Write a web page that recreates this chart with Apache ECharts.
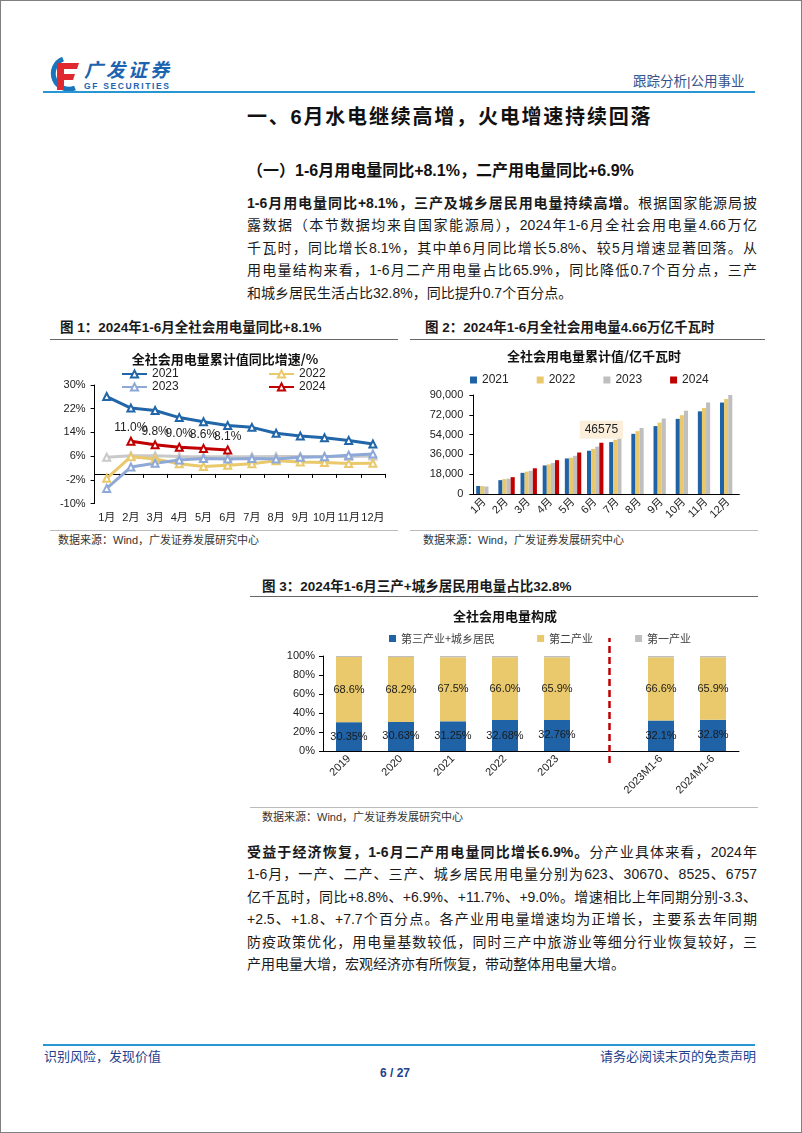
<!DOCTYPE html>
<html>
<head>
<meta charset="utf-8">
<script src="https://cdn.jsdelivr.net/npm/echarts@6/dist/echarts.min.js"></script>
<style>
html, body { margin: 0; padding: 0; background: #fff; }
body { width: 802px; height: 1133px; position: relative; overflow: hidden;
       font-family: "Liberation Sans", Arial, "Noto Sans CJK SC", sans-serif; color: #111; }
.page { position: absolute; left: 0; top: 0; width: 800px; height: 1131px; border: 1px solid #7f7f7f; }
.abs { position: absolute; white-space: nowrap; }
.hline { position: absolute; height: 0; }
.para { position: absolute; left: 247px; width: 510px; font-size: 14px; line-height: 22.4px; color: #1a1a1a; }
.ln { text-align: justify; text-align-last: justify; height: 22.4px; overflow: hidden; }
.ln.last { text-align-last: left; }
.fig { font-size: 13.5px; font-weight: bold; color: #1a1a1a; line-height: 16px; }
.src { font-size: 11px; color: #333; line-height: 14px; }
.chart { position: absolute; }
</style>
</head>
<body>
<div class="page"></div>

<!-- header -->
<svg class="abs" style="left:44px;top:54px" width="132" height="40">
  <path d="M19 5 A15 15 0 1 0 31 34" stroke="#1B75BB" stroke-width="5" fill="none"/>
  <path d="M13 9 H35 L33 15 H20 V20 H31 L29 26 H20 V36 H13 Z" fill="#E0282E"/>
  <text x="40" y="23" font-size="19" font-weight="bold" fill="#1E63B0" font-family="Noto Sans CJK SC" textLength="85" font-style="italic">广发证券</text>
  <text x="40" y="35" font-size="8.5" font-weight="bold" fill="#1E63B0" font-family="Liberation Sans" textLength="85">GF SECURITIES</text>
</svg>
<div class="abs" style="left:633px;top:74px;font-size:13.5px;color:#35538A;line-height:16px">跟踪分析|公用事业</div>
<div class="hline" style="left:43px;top:91px;width:712px;border-top:2.5px solid #2896D3"></div>

<div class="abs" style="left:247px;top:105px;font-size:20px;font-weight:bold;letter-spacing:1.8px;line-height:24px;color:#111">一、6月水电继续高增，火电增速持续回落</div>
<div class="abs" style="left:247px;top:161px;font-size:16px;font-weight:bold;line-height:20px;color:#111">（一）1-6月用电量同比+8.1%，二产用电量同比+6.9%</div>

<div class="para" style="top:192px">
  <div class="ln"><b>1-6月用电量同比+8.1%，三产及城乡居民用电量持续高增。</b>根据国家能源局披</div>
  <div class="ln">露数据（本节数据均来自国家能源局），2024年1-6月全社会用电量4.66万亿</div>
  <div class="ln">千瓦时，同比增长8.1%，其中单6月同比增长5.8%、较5月增速显著回落。从</div>
  <div class="ln">用电量结构来看，1-6月二产用电量占比65.9%，同比降低0.7个百分点，三产</div>
  <div class="ln last">和城乡居民生活占比32.8%，同比提升0.7个百分点。</div>
</div>

<!-- figure 1 / 2 headers -->
<div class="abs fig" style="left:60px;top:320px">图 1：2024年1-6月全社会用电量同比+8.1%</div>
<div class="hline" style="left:50px;top:339px;width:348px;border-top:1.5px solid #666"></div>
<div class="abs fig" style="left:425px;top:320px">图 2：2024年1-6月全社会用电量4.66万亿千瓦时</div>
<div class="hline" style="left:410px;top:339px;width:355px;border-top:1.5px solid #666"></div>

<div id="c1" class="chart" style="left:50px;top:342px;width:350px;height:188px"></div>
<div id="c2" class="chart" style="left:410px;top:342px;width:360px;height:188px"></div>

<div class="hline" style="left:50px;top:530px;width:348px;border-top:1px solid #bbb"></div>
<div class="abs src" style="left:58px;top:533px">数据来源：Wind，广发证券发展研究中心</div>
<div class="hline" style="left:410px;top:530px;width:348px;border-top:1px solid #bbb"></div>
<div class="abs src" style="left:423px;top:533px">数据来源：Wind，广发证券发展研究中心</div>

<!-- figure 3 -->
<div class="abs fig" style="left:262px;top:579px">图 3：2024年1-6月三产+城乡居民用电量占比32.8%</div>
<div class="hline" style="left:250px;top:596px;width:508px;border-top:1.5px solid #666"></div>
<div id="c3" class="chart" style="left:250px;top:600px;width:510px;height:205px"></div>
<div class="hline" style="left:250px;top:807px;width:508px;border-top:1px solid #bbb"></div>
<div class="abs src" style="left:262px;top:810px">数据来源：Wind，广发证券发展研究中心</div>

<div class="para" style="top:841px">
  <div class="ln"><b>受益于经济恢复，1-6月二产用电量同比增长6.9%。</b>分产业具体来看，2024年</div>
  <div class="ln">1-6月，一产、二产、三产、城乡居民用电量分别为623、30670、8525、6757</div>
  <div class="ln">亿千瓦时，同比+8.8%、+6.9%、+11.7%、+9.0%。增速相比上年同期分别-3.3、</div>
  <div class="ln">+2.5、+1.8、+7.7个百分点。各产业用电量增速均为正增长，主要系去年同期</div>
  <div class="ln">防疫政策优化，用电量基数较低，同时三产中旅游业等细分行业恢复较好，三</div>
  <div class="ln last">产用电量大增，宏观经济亦有所恢复，带动整体用电量大增。</div>
</div>

<!-- footer -->
<div class="hline" style="left:43px;top:1044px;width:712px;border-top:2.5px solid #2896D3"></div>
<div class="abs" style="left:44px;top:1049px;font-size:13px;color:#24418C;line-height:16px">识别风险，发现价值</div>
<div class="abs" style="right:46px;top:1049px;font-size:13px;color:#24418C;line-height:16px">请务必阅读末页的免责声明</div>
<div class="abs" style="left:380px;top:1065px;width:30px;text-align:center;font-size:12px;font-weight:bold;color:#24418C;line-height:16px">6 / 27</div>

<script>
// ---- 图1：全社会用电量累计同比增速(%)
const months = ['1月', '2月', '3月', '4月', '5月', '6月', '7月', '8月', '9月', '10月', '11月', '12月'];
const growth2021 = [26.1, 22.2, 21.4, 19.0, 17.6, 16.3, 15.7, 13.7, 12.8, 12.2, 11.3, 10.1];
const growth2022 = [-1.5, 5.8, 5.0, 3.4, 2.5, 2.9, 3.4, 4.4, 4.0, 3.8, 3.5, 3.6];
const growth2023 = [-4.9, 2.3, 3.6, 4.7, 5.2, 5.0, 5.2, 5.0, 5.6, 5.8, 6.3, 6.7];
const growthGray = [5.6, 6.1, 6.1, 5.9, 5.8, 5.8, 5.8, 5.9, 5.9, 5.9, 5.9, 6.0];
const growth2024 = [null, 11.0, 9.8, 9.0, 8.6, 8.1, null, null, null, null, null, null];
const growthTicks = [-10, -2, 6, 14, 22, 30];

// ---- 图2：全社会用电量累计值(亿千瓦时)
const cum2021 = [7300, 12588, 19219, 25964, 32305, 39339, 47186, 54704, 61733, 68311, 75145, 83128];
const cum2022 = [7200, 13578, 20346, 26899, 33011, 40977, 49303, 57151, 64931, 71630, 78150, 86372];
const cum2023 = [6800, 13890, 21073, 28196, 34707, 43076, 51599, 60026, 68637, 75756, 83177, 92241];
const cum2024 = [null, 15316, 23373, 30751, 37722, 46575, null, null, null, null, null, null];
const cumLabelIndex = 5;

// ---- 图3：全社会用电量构成(%)
const structCats = ['2019', '2020', '2021', '2022', '2023', ' ', '2023M1-6', '2024M1-6'];
const shareTertiary = [30.35, 30.63, 31.25, 32.68, 32.76, null, 32.1, 32.8];
const shareSecondary = [68.6, 68.2, 67.5, 66.0, 65.9, null, 66.6, 65.9];
const sharePrimary = [1.05, 1.17, 1.25, 1.32, 1.34, null, 1.3, 1.3];
const shareLabels = {
    tertiary: ['30.35%', '30.63%', '31.25%', '32.68%', '32.76%', '', '32.1%', '32.8%'],
    secondary: ['68.6%', '68.2%', '67.5%', '66.0%', '65.9%', '', '66.6%', '65.9%']
};
const separatorCat = ' ';

const FONT = '"Liberation Sans", Arial, "Noto Sans CJK SC", sans-serif';
const BLUE = '#1F62A6', YELLOW = '#E9C96C', GRAY = '#BFBFBF', RED = '#C00000';
const LIGHTBLUE = '#8EA9D8', LINEGRAY = '#C9C9C9';

// 图1
const c1 = echarts.init(document.getElementById('c1'));
const lineSeries = (name, data, color, z) => ({
    name: name,
    type: 'line',
    data: data,
    z: z,
    symbol: 'emptyTriangle',
    symbolSize: 7,
    lineStyle: { width: 3, color: color },
    itemStyle: { color: color, borderWidth: 1.2 },
    connectNulls: false
});
c1.setOption({
    animation: false,
    textStyle: { fontFamily: FONT },
    title: {
        text: '全社会用电量累计值同比增速/%',
        left: 'center', top: 6,
        textStyle: { fontSize: 13, fontWeight: 'bold', color: '#111', fontFamily: '"Noto Sans CJK SC", sans-serif' }
    },
    legend: [
        { data: ['2021', '2023'], orient: 'vertical', left: 66, top: 21, itemWidth: 25, itemHeight: 9, itemGap: 1,
          textStyle: { fontSize: 12, color: '#222' } },
        { data: ['2022', '2024'], orient: 'vertical', left: 213, top: 21, itemWidth: 25, itemHeight: 9, itemGap: 1,
          textStyle: { fontSize: 12, color: '#222' } }
    ],
    grid: { left: 44.6, right: 15, top: 43, bottom: 26.5 },
    xAxis: [
        {
            type: 'category', data: months, position: 'bottom',
            axisLine: { show: false, onZero: false }, axisTick: { show: false },
            axisLabel: { fontSize: 11, color: '#222', margin: 9, interval: 0 }
        },
        {
            type: 'category', data: months, position: 'bottom',
            axisLine: { show: true, onZero: true, lineStyle: { color: '#000', width: 1 } },
            axisTick: { show: true, length: 4, interval: 0, lineStyle: { color: '#000' } },
            axisLabel: { show: false }
        }
    ],
    yAxis: {
        type: 'value', min: -10, max: 30,
        axisLine: { show: true, lineStyle: { color: '#000' } },
        axisTick: { show: true, length: 4, customValues: growthTicks, lineStyle: { color: '#000' } },
        axisLabel: { fontSize: 11, color: '#222', margin: 9, customValues: growthTicks, formatter: '{value}%' },
        splitLine: { show: false }
    },
    series: [
        lineSeries('2021', growth2021, '#2166A8', 3),
        lineSeries('2022', growth2022, YELLOW, 3),
        lineSeries('other', growthGray, LINEGRAY, 2),
        lineSeries('2023', growth2023, LIGHTBLUE, 3),
        Object.assign(lineSeries('2024', growth2024, RED, 4), {
            label: {
                show: true, position: 'top', distance: 3, fontSize: 12, color: '#222',
                formatter: p => (p.value == null ? '' : p.value.toFixed(1) + '%')
            }
        })
    ]
});

// 图2
const c2 = echarts.init(document.getElementById('c2'));
const barSeries = (name, data, color) => ({
    name: name, type: 'bar', data: data, barGap: 0, barCategoryGap: '26%',
    itemStyle: { color: color }
});
c2.setOption({
    animation: false,
    textStyle: { fontFamily: FONT },
    title: {
        text: '全社会用电量累计值/亿千瓦时',
        left: 92, top: 3,
        textStyle: { fontSize: 13, fontWeight: 'bold', color: '#111', fontFamily: '"Noto Sans CJK SC", sans-serif' }
    },
    legend: {
        data: ['2021', '2022', '2023', '2024'], left: 55, top: 27,
        icon: 'rect', itemWidth: 7, itemHeight: 7, itemGap: 28,
        textStyle: { fontSize: 12, color: '#222' }
    },
    grid: { left: 63.3, right: 30.7, top: 53, bottom: 36 },
    xAxis: {
        type: 'category', data: months,
        axisLine: { lineStyle: { color: '#000' } },
        axisTick: { length: 4, lineStyle: { color: '#000' } },
        axisLabel: { fontSize: 11, color: '#222', rotate: 45, margin: 6, interval: 0 }
    },
    yAxis: {
        type: 'value', min: 0, max: 90000, interval: 18000,
        axisLine: { show: true, lineStyle: { color: '#000' } },
        axisTick: { show: true, length: 4, lineStyle: { color: '#000' } },
        axisLabel: { fontSize: 11, color: '#222', margin: 10 },
        splitLine: { show: false }
    },
    series: [
        barSeries('2021', cum2021, BLUE),
        barSeries('2022', cum2022, YELLOW),
        barSeries('2023', cum2023, GRAY),
        barSeries('2024', cum2024.map((v, i) => i === cumLabelIndex ? {
            value: v,
            label: {
                show: true, position: 'top', distance: 4, fontSize: 12, color: '#222',
                backgroundColor: '#FBEFDB', padding: [3, 5]
            }
        } : v), RED)
    ]
});

// 图3
const c3 = echarts.init(document.getElementById('c3'));
const stackSeries = (name, data, color, labels) => ({
    name: name, type: 'bar', stack: 'total', data: data, barWidth: '50%',
    itemStyle: { color: color },
    label: labels ? {
        show: true, position: 'inside', fontSize: 11, color: '#1a1a1a',
        formatter: p => labels[p.dataIndex]
    } : { show: false }
});
c3.setOption({
    animation: false,
    textStyle: { fontFamily: FONT },
    title: {
        text: '全社会用电量构成',
        left: 'center', top: 5,
        textStyle: { fontSize: 13, fontWeight: 'bold', color: '#111', fontFamily: '"Noto Sans CJK SC", sans-serif' }
    },
    legend: {
        data: ['第三产业+城乡居民', '第二产业', '第一产业'], left: 134, top: 28,
        icon: 'rect', itemWidth: 7, itemHeight: 7, itemGap: 42,
        textStyle: { fontSize: 11, color: '#404040', fontFamily: '"Noto Sans CJK SC", sans-serif' }
    },
    grid: [
        { left: 73, right: 21, top: 56, bottom: 54 },
        { left: 73, right: 21, top: 38, bottom: 42 }
    ],
    xAxis: [
        {
            type: 'category', data: structCats, gridIndex: 0,
            axisLine: { lineStyle: { color: '#000' } },
            axisTick: { length: 4, lineStyle: { color: '#000' } },
            axisLabel: { fontSize: 11, color: '#222', rotate: 45, margin: 6, interval: 0 }
        },
        { type: 'category', data: structCats, gridIndex: 1, show: false }
    ],
    yAxis: [
        {
            type: 'value', min: 0, max: 100, interval: 20, gridIndex: 0,
            axisLine: { show: true, lineStyle: { color: '#000' } },
            axisTick: { show: true, length: 4, lineStyle: { color: '#000' } },
            axisLabel: { fontSize: 11, color: '#222', margin: 8, formatter: '{value}%' },
            splitLine: { show: false }
        },
        { type: 'value', min: 0, max: 1, gridIndex: 1, show: false }
    ],
    series: [
        stackSeries('第三产业+城乡居民', shareTertiary, BLUE, shareLabels.tertiary),
        stackSeries('第二产业', shareSecondary, YELLOW, shareLabels.secondary),
        stackSeries('第一产业', sharePrimary, GRAY, null),
        {
            type: 'line', xAxisIndex: 1, yAxisIndex: 1, data: [],
            markLine: {
                silent: true, symbol: 'none', animation: false,
                label: { show: false },
                lineStyle: { color: RED, width: 2.5, type: [7, 4] },
                data: [{ xAxis: separatorCat }]
            }
        }
    ]
});
</script>
</body>
</html>
